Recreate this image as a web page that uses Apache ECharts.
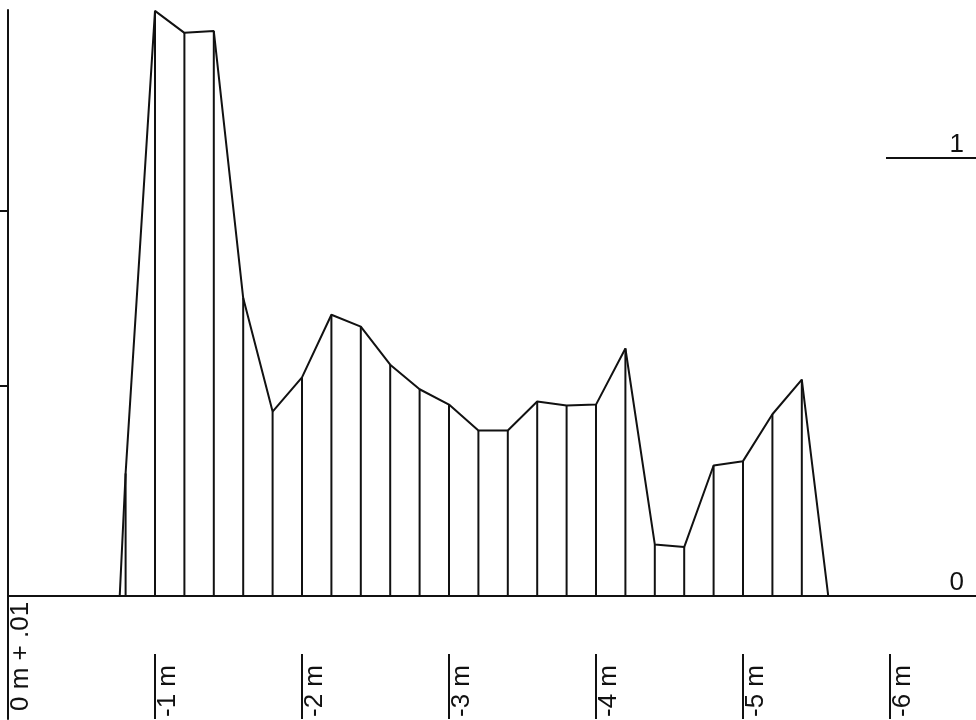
<!DOCTYPE html>
<html>
<head>
<meta charset="utf-8">
<script src="https://cdn.jsdelivr.net/npm/echarts@6/dist/echarts.min.js"></script>
<style>
  html, body { margin: 0; padding: 0; background: #ffffff; }
  #chart { width: 976px; height: 720px; }
</style>
</head>
<body>
<div id="chart"></div>
<script>
// Depth of each reading (m below the start point) and the reading itself
const depths = [0.76, 0.8, 1.0, 1.2, 1.4, 1.6, 1.8, 2.0, 2.2, 2.4, 2.6, 2.8, 3.0,
                3.2, 3.4, 3.6, 3.8, 4.0, 4.2, 4.4, 4.6, 4.8, 5.0, 5.2, 5.4, 5.58];
const readings = [0, 0.28, 1.335, 1.285, 1.289, 0.68, 0.421, 0.499, 0.642, 0.615, 0.528,
                  0.472, 0.437, 0.378, 0.378, 0.444, 0.435, 0.437, 0.565, 0.118, 0.112,
                  0.298, 0.308, 0.415, 0.494, 0];

// Depth scale along the bottom
const depthTicks = [0, 1, 2, 3, 4, 5, 6];
const depthTickLabels = ['0 m + .01', '-1 m', '-2 m', '-3 m', '-4 m', '-5 m', '-6 m'];

// Reading scale on the right
const scaleTicks = [0, 1];
const scaleTickLabels = ['0', '1'];

// Short marks on the left-hand axis
const leftMarks = [0.48, 0.88];

const X_MAX = 6.585;
const Y_MIN = -0.2802;
const Y_MAX = 1.3371;

const LABEL_FONT = 'Liberation Sans, Arial, sans-serif';

const points = depths.map((d, i) => [d, readings[i]]);
const stems = points.slice(1, points.length - 1);

const chart = echarts.init(document.getElementById('chart'), null, { renderer: 'canvas' });

chart.setOption({
  backgroundColor: '#ffffff',
  animation: false,
  grid: { left: 8, right: 0, top: 10, bottom: 0, containLabel: false },
  xAxis: [
    {
      // baseline at reading 0
      type: 'value', min: 0, max: X_MAX, position: 'bottom',
      axisLine: { show: true, onZero: true, lineStyle: { color: '#111', width: 2 } },
      axisTick: { show: false }, axisLabel: { show: false }, splitLine: { show: false }
    },
    {
      // depth ticks and labels along the lower edge
      type: 'value', min: 0, max: X_MAX, position: 'bottom',
      axisLine: { show: false, onZero: false },
      axisTick: {
        show: true, inside: true, length: 65,
        customValues: depthTicks.slice(1),
        lineStyle: { color: '#111', width: 2 }
      },
      axisLabel: {
        show: true, inside: true, rotate: 90, margin: 2,
        verticalAlign: 'top',
        customValues: depthTicks,
        formatter: v => {
          const i = depthTicks.indexOf(Math.round(v));
          if (i < 0) return '';
          return i === 0 ? '{start|' + depthTickLabels[i] + '}' : depthTickLabels[i];
        },
        fontFamily: LABEL_FONT, fontSize: 26, color: '#111',
        rich: {
          start: { fontFamily: LABEL_FONT, fontSize: 26, color: '#111', padding: [0, 0, 0, 6] }
        }
      },
      splitLine: { show: false }
    }
  ],
  yAxis: [
    {
      type: 'value', min: Y_MIN, max: Y_MAX, position: 'left',
      axisLine: { show: true, onZero: false, lineStyle: { color: '#111', width: 2 } },
      axisTick: { show: true, inside: false, length: 8, customValues: leftMarks,
                  lineStyle: { color: '#111', width: 2 } },
      axisLabel: { show: false }, splitLine: { show: false }
    },
    {
      type: 'value', min: Y_MIN, max: Y_MAX, position: 'right',
      axisLine: { show: false, onZero: false },
      axisTick: { show: true, inside: true, length: 90, customValues: [1],
                  lineStyle: { color: '#111', width: 2 } },
      axisLabel: {
        show: true, inside: true, margin: 12, verticalAlign: 'bottom',
        customValues: scaleTicks,
        formatter: v => scaleTickLabels[scaleTicks.indexOf(Math.round(v))] || '',
        fontFamily: 'Liberation Sans Narrow, Liberation Sans, sans-serif', fontSize: 26, color: '#111'
      },
      splitLine: { show: false }
    }
  ],
  series: [
    {
      type: 'bar', xAxisIndex: 0, yAxisIndex: 0,
      data: stems, barWidth: 2, itemStyle: { color: '#111' }, silent: true
    },
    {
      type: 'line', xAxisIndex: 0, yAxisIndex: 0,
      data: points, symbol: 'none', silent: true,
      lineStyle: { color: '#111', width: 2 }
    }
  ]
});
</script>
</body>
</html>
